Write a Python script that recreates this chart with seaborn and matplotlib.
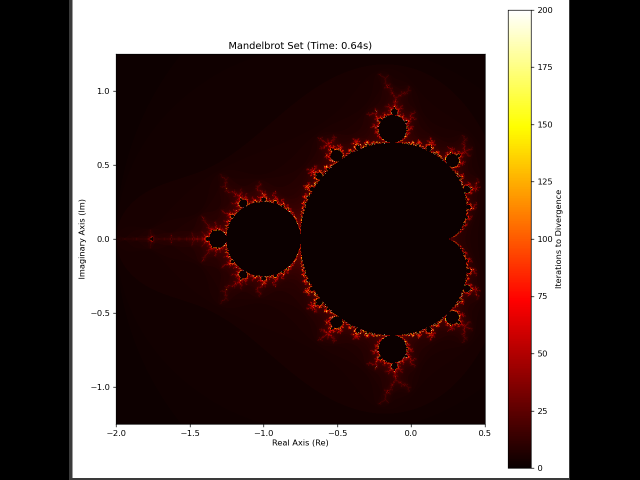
# Mandelbrot escape-time heatmap
import numpy as np
import seaborn as sns
import matplotlib.pyplot as plt
from matplotlib.patches import Rectangle

re_range = [-2.0, 0.5]
im_range = [-1.25, 1.25]
grid_size = 740
max_iter = 200

x_ticks = [-2.0, -1.5, -1.0, -0.5, 0.0, 0.5]
y_ticks = [-1.0, -0.5, 0.0, 0.5, 1.0]
cbar_ticks = [0, 25, 50, 75, 100, 125, 150, 175, 200]

title = "Mandelbrot Set (Time: 0.64s)"
x_label = "Real Axis (Re)"
y_label = "Imaginary Axis (Im)"
cbar_label = "Iterations to Divergence"


# The cells are the fractal itself, far too many to read off the picture,
# so they are computed from the extent and iteration limit above.
def mandelbrot(re_lim, im_lim, size, limit):
    re = np.linspace(re_lim[0], re_lim[1], size)
    im = np.linspace(im_lim[0], im_lim[1], size)
    c = re[None, :] + 1j * im[:, None]
    z = np.zeros_like(c)
    counts = np.zeros(c.shape, dtype=int)
    alive = np.ones(c.shape, dtype=bool)
    for i in range(limit):
        z[alive] = z[alive] ** 2 + c[alive]
        escaped = alive & (np.abs(z) > 2)
        counts[escaped] = i + 1
        alive &= ~escaped
    return counts


def tick_text(values):
    return [f"{v:.1f}".replace("-", "\u2212") for v in values]


counts = mandelbrot(re_range, im_range, grid_size, max_iter)

plt.rcParams["font.size"] = 9.2
plt.rcParams["axes.titlesize"] = 11.1
plt.rcParams["axes.labelsize"] = 9.2

fig = plt.figure(figsize=(10, 7.5), dpi=64, facecolor="black")
fig.add_artist(Rectangle((69 / 640, 0), 501 / 640, 1, transform=fig.transFigure,
                         facecolor="#3a3a3a", edgecolor="none", zorder=-2))
fig.add_artist(Rectangle((72.5 / 640, 2 / 480), 496.5 / 640, 478 / 480, transform=fig.transFigure,
                         facecolor="white", edgecolor="none", zorder=-1))

ax = fig.add_axes([116 / 640, 56 / 480, 369 / 640, 370 / 480])
cax = fig.add_axes([508 / 640, 12 / 480, 23 / 640, 458 / 480])

sns.heatmap(counts, ax=ax, cbar_ax=cax, cmap="hot", vmin=0, vmax=max_iter,
            xticklabels=False, yticklabels=False, cbar_kws={"label": cbar_label})
ax.set_ylim(0, grid_size)

x_span = re_range[1] - re_range[0]
y_span = im_range[1] - im_range[0]
ax.set_xticks([(v - re_range[0]) / x_span * grid_size for v in x_ticks])
ax.set_xticklabels(tick_text(x_ticks), rotation=0)
ax.set_yticks([(v - im_range[0]) / y_span * grid_size for v in y_ticks])
ax.set_yticklabels(tick_text(y_ticks), rotation=0)
ax.tick_params(labelsize=9.2)
ax.set_title(title)
ax.set_xlabel(x_label, labelpad=1.5)
ax.set_ylabel(y_label)
for spine in ax.spines.values():
    spine.set_visible(True)

cbar = ax.collections[0].colorbar
cbar.set_ticks(cbar_ticks)
cbar.ax.tick_params(labelsize=9.2)
cbar.set_label(cbar_label, labelpad=3)
cbar.outline.set_linewidth(0.8)
cbar.outline.set_edgecolor("black")

# the reference is a shrunken screenshot: draw at double size, then halve the pixels
fig.savefig("out.png", dpi=128, facecolor=fig.get_facecolor())
big = plt.imread("out.png")[:, :, :3]
small = big.reshape(480, 2, 640, 2, 3).mean(axis=(1, 3))
plt.imsave("out.png", small)
